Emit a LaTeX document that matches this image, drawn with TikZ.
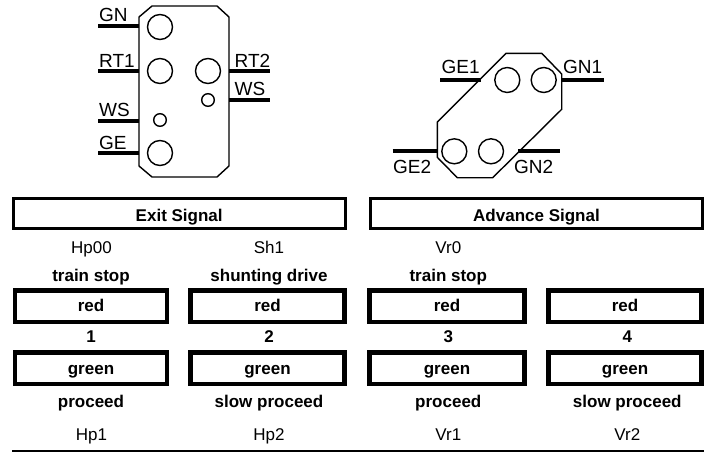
\documentclass[tikz,border=0pt]{standalone}
\usepackage{fontspec}
\setmainfont{Liberation Sans}
\tikzset{
  body/.style={draw=black,line width=1.4pt,line join=miter},
  lamp/.style={draw=black,line width=1.4pt},
  stub/.style={draw=black,line width=4pt},
  sig/.style={font=\fontsize{19}{20}\selectfont,anchor=base west,inner sep=0pt},
  txt/.style={font=\fontsize{17}{20}\selectfont,anchor=base,inner sep=0pt},
  btxt/.style={font=\fontsize{17}{20}\selectfont\bfseries,anchor=base,inner sep=0pt},
  titlebox/.style={draw=black,line width=3pt,inner sep=0pt,minimum width=332pt,minimum height=30pt,
    font=\fontsize{17}{20}\selectfont\bfseries,text height=16pt,text depth=0pt},
  lampbox/.style={draw=black,line width=4.8pt,inner sep=0pt,minimum height=31.4pt,
    font=\fontsize{17}{20}\selectfont\bfseries,text height=12pt,text depth=1pt},
}
\begin{document}
\begin{tikzpicture}[x=1pt,y=-1pt]
\useasboundingbox (0,0) rectangle (708,452);
% exit signal
\draw[body] (152,6) -- (217,6) -- (229,17) -- (229,166) -- (217,177) -- (152,177) -- (139,166) -- (139,17) -- cycle;
\foreach \p in {(160,27),(160,71),(208,71),(160,153)} \draw[lamp] \p circle (12.5);
\foreach \p in {(208,100),(160,120)} \draw[lamp] \p circle (6.3);
\draw[stub] (98,26) -- (139,26);
\draw[stub] (98,71) -- (139,71);
\draw[stub] (98,121) -- (139,121);
\draw[stub] (98,153) -- (139,153);
\draw[stub] (229,71) -- (270,71);
\draw[stub] (229,100) -- (270,100);
\node[sig] (gn) at (99,21.7) {GN};
\node[sig] (rt1) at (99,67.7) {RT1};
\node[sig] (ws1) at (99,116.7) {WS};
\node[sig] (ge) at (99,149.3) {GE};
\node[sig] (rt2) at (234.5,67.7) {RT2};
\node[sig] (ws2) at (234.5,95) {WS};
% advance signal
\draw[body] (506,53.3) -- (541.7,53.3) -- (561.7,74) -- (561.7,109.3) -- (492.7,177.7) -- (457.3,177.7) -- (437.3,157.3) -- (437.3,122) -- cycle;
\foreach \p in {(507.3,80),(543.7,80),(454.3,151.3),(491,151.3)} \draw[lamp] \p circle (12.5);
\draw[stub] (440,79.5) -- (481,79.5);
\draw[stub] (561.7,80) -- (604,80);
\draw[stub] (392.7,151.3) -- (437,151.3);
\draw[stub] (518,151.3) -- (560,151.3);
\node[sig] (ge1) at (441.5,74) {GE1};
\node[sig] (gn1) at (563,74) {GN1};
\node[sig] (ge2) at (393,173) {GE2};
\node[sig] (gn2) at (514,173) {GN2};
% table
\node[titlebox] (exit) at (179.2,213.7) {Exit Signal};
\node[titlebox] (adv) at (536.5,213.7) {Advance Signal};
\node[txt] (a1) at (91.5,253.3) {Hp00};
\node[txt] (a2) at (269,253.3) {Sh1};
\node[txt] (a3) at (448.3,253.3) {Vr0};
\node[btxt] (b1) at (91,281.7) {train stop};
\node[btxt] (b2) at (269,281.7) {shunting drive};
\node[btxt] (b3) at (448.3,281.7) {train stop};
\node[lampbox,minimum width=151.9pt] (r1) at (91,306.3) {red};
\node[lampbox,minimum width=153.4pt] (r2) at (267.5,306.3) {red};
\node[lampbox,minimum width=154.4pt] (r3) at (447,306.3) {red};
\node[lampbox,minimum width=153.4pt] (r4) at (625,306.3) {red};
\node[btxt] (n1) at (91,342.3) {1};
\node[btxt] (n2) at (269,342.3) {2};
\node[btxt] (n3) at (448.3,342.3) {3};
\node[btxt] (n4) at (627.3,342.3) {4};
\node[lampbox,minimum width=151.9pt,text depth=0pt] (g1) at (91,368.3) {green};
\node[lampbox,minimum width=153.4pt,text depth=0pt] (g2) at (267.5,368.3) {green};
\node[lampbox,minimum width=154.4pt,text depth=0pt] (g3) at (447,368.3) {green};
\node[lampbox,minimum width=153.4pt,text depth=0pt] (g4) at (625,368.3) {green};
\node[btxt] (p1) at (91,407.7) {proceed};
\node[btxt] (p2) at (269,407.7) {slow proceed};
\node[btxt] (p3) at (448.3,407.7) {proceed};
\node[btxt] (p4) at (627.3,407.7) {slow proceed};
\node[txt] (h1) at (91.5,440) {Hp1};
\node[txt] (h2) at (269,440) {Hp2};
\node[txt] (h3) at (448.3,440) {Vr1};
\node[txt] (h4) at (627.3,440) {Vr2};
\draw[black,line width=1.4pt] (12,451) -- (704,451);
\end{tikzpicture}
\end{document}
